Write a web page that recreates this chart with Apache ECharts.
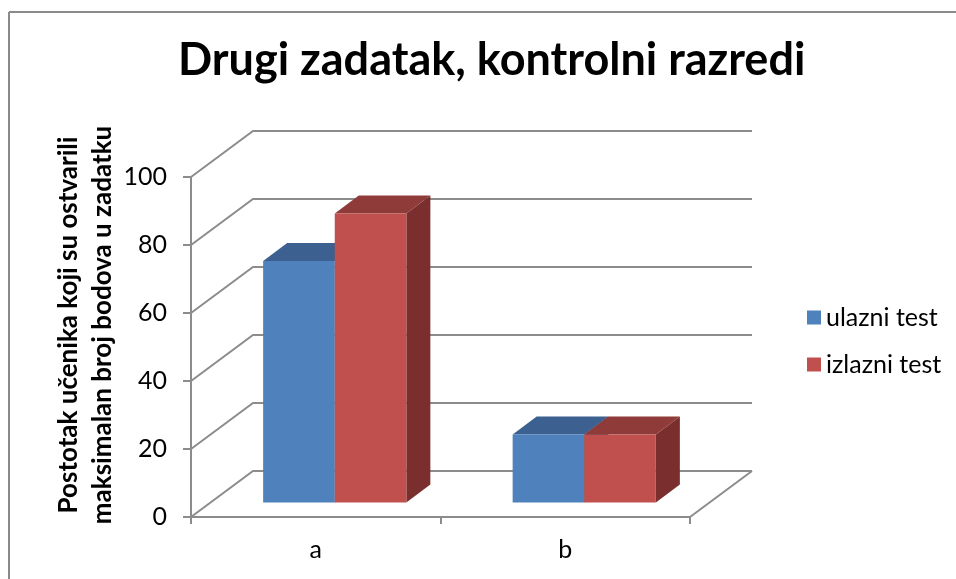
<!DOCTYPE html>
<html>
<head>
<meta charset="utf-8">
<script src="https://cdn.jsdelivr.net/npm/echarts@6/dist/echarts.min.js"></script>
<style>
html,body{margin:0;padding:0;background:#fff;}
#chart{width:956px;height:579px;}
</style>
</head>
<body>
<div id="chart"></div>
<script>
var categories = ['a', 'b'];
var seriesNames = ['ulazni test', 'izlazni test'];
var ulazniTest = [71, 20];
var izlazniTest = [85, 20];
var yTicks = [0, 20, 40, 60, 80, 100];
var titleText = 'Drugi zadatak, kontrolni razredi';
var yAxisTitle = 'Postotak učenika koji su ostvarili\nmaksimalan broj bodova u zadatku';

var FONT = 'Lato, "Open Sans", sans-serif';
var GRID_COLOR = '#8c8c8c';
// oblique depth vectors (px)
var WALL = [62, -46];
var BAR_FRONT = [19, -14.5];
var BAR_DEPTH = [24, -18];
var BAR_FRAC = 0.287;

var colors = {
  blue: { front: '#4F81BD', top: '#3C6190', side: '#2F4D73' },
  red: { front: '#C0504D', top: '#8F3B39', side: '#7A2F2E' }
};

function wallItem(params, api) {
  var cs = params.coordSys;
  var v = api.value(1);
  var y = api.coord([0, v])[1];
  var x0 = cs.x, x1 = cs.x + cs.width;
  var children = [{
    type: 'polyline',
    shape: { points: [[x0, y], [x0 + WALL[0], y + WALL[1]], [x1 + WALL[0], y + WALL[1]]] },
    style: { stroke: GRID_COLOR, lineWidth: 2, fill: null }
  }];
  if (v === 0) {
    children.push({
      type: 'line',
      shape: { x1: x1, y1: y, x2: x1 + WALL[0], y2: y + WALL[1] },
      style: { stroke: GRID_COLOR, lineWidth: 2 }
    });
  }
  return { type: 'group', children: children };
}

function makeBar(side, pal) {
  return function (params, api) {
    var cat = api.value(0);
    var base = api.coord([cat, 0]);
    var top = api.coord([cat, api.value(1)]);
    var band = api.size([1, 0])[0];
    var w = band * BAR_FRAC;
    var x0 = (side === 0 ? base[0] - w : base[0]) + BAR_FRONT[0];
    var x1 = x0 + w;
    var by = base[1] + BAR_FRONT[1];
    var ty = top[1] + BAR_FRONT[1];
    var dx = BAR_DEPTH[0], dy = BAR_DEPTH[1];
    return {
      type: 'group',
      children: [
        { type: 'polygon', shape: { points: [[x1, ty], [x1 + dx, ty + dy], [x1 + dx, by + dy], [x1, by]] }, style: { fill: pal.side } },
        { type: 'polygon', shape: { points: [[x0, ty], [x1, ty], [x1 + dx, ty + dy], [x0 + dx, ty + dy]] }, style: { fill: pal.top } },
        { type: 'rect', shape: { x: x0, y: ty, width: w, height: by - ty }, style: { fill: pal.front } }
      ]
    };
  };
}

var chart = echarts.init(document.getElementById('chart'), null, { renderer: 'canvas' });
chart.setOption({
  animation: false,
  backgroundColor: '#fff',
  title: {
    text: titleText,
    left: 173,
    top: 33,
    textStyle: { fontFamily: FONT, fontWeight: 'bold', fontSize: 45, color: '#000' }
  },
  legend: {
    orient: 'vertical',
    left: 802,
    top: 300,
    itemWidth: 14,
    itemHeight: 14,
    itemGap: 22,
    icon: 'rect',
    textStyle: { fontFamily: FONT, fontSize: 25, lineHeight: 25, color: '#000' },
    data: [
      { name: seriesNames[0], itemStyle: { color: colors.blue.front } },
      { name: seriesNames[1], itemStyle: { color: colors.red.front } }
    ]
  },
  graphic: [
    { type: 'line', shape: { x1: 9, y1: 12, x2: 9, y2: 579 }, style: { stroke: '#8a8a8a', lineWidth: 2 } },
    { type: 'line', shape: { x1: 9, y1: 12, x2: 956, y2: 12 }, style: { stroke: '#8a8a8a', lineWidth: 2 } },
    {
      type: 'text', x: 86, y: 325, rotation: Math.PI / 2,
      style: { text: yAxisTitle, fontFamily: FONT, fontWeight: 'bold', fontSize: 26, lineHeight: 34, fill: '#000', align: 'center', verticalAlign: 'middle' }
    }
  ],
  grid: { left: 191, right: 266, top: 177, bottom: 62, containLabel: false },
  xAxis: {
    type: 'category',
    data: categories,
    boundaryGap: true,
    axisLine: { show: true, lineStyle: { color: GRID_COLOR, width: 2 } },
    axisTick: { show: true, alignWithLabel: false, length: 7, lineStyle: { color: GRID_COLOR, width: 2 } },
    axisLabel: { fontFamily: FONT, fontSize: 25, color: '#000', margin: 20 },
    splitLine: { show: false }
  },
  yAxis: {
    type: 'value',
    min: 0, max: 100, interval: 20,
    axisLine: { show: true, lineStyle: { color: GRID_COLOR, width: 2 } },
    axisTick: { show: true, length: 8, lineStyle: { color: GRID_COLOR, width: 2 } },
    axisLabel: { fontFamily: FONT, fontSize: 25, color: '#000', margin: 24 },
    splitLine: { show: false }
  },
  series: [
    {
      type: 'custom', name: '_wall', silent: true, z: 1,
      renderItem: wallItem,
      data: yTicks.map(function (t) { return [0, t]; }),
      encode: { x: 0, y: 1 }
    },
    {
      type: 'custom', name: seriesNames[0], z: 2,
      itemStyle: { color: colors.blue.front },
      renderItem: makeBar(0, colors.blue),
      data: ulazniTest.map(function (v, i) { return [i, v]; }),
      encode: { x: 0, y: 1 }
    },
    {
      type: 'custom', name: seriesNames[1], z: 3,
      itemStyle: { color: colors.red.front },
      renderItem: makeBar(1, colors.red),
      data: izlazniTest.map(function (v, i) { return [i, v]; }),
      encode: { x: 0, y: 1 }
    }
  ]
});
</script>
</body>
</html>
